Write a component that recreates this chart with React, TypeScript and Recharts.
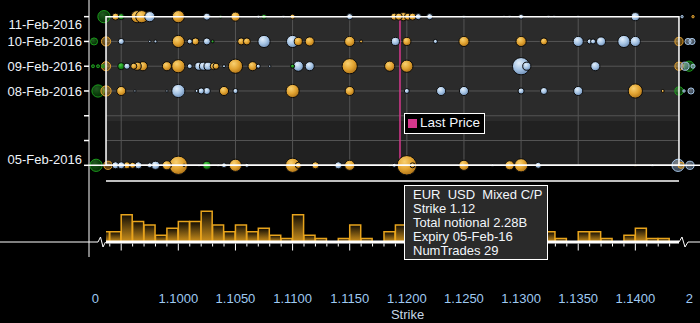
import React from "react";
import {
  ScatterChart,
  Scatter,
  BarChart,
  Bar,
  XAxis,
  YAxis,
  ZAxis,
  Cell,
  Label,
  ReferenceArea,
  ReferenceLine,
} from "recharts";

// [strike, expiry day (Feb 2016), notional in millions]
type Trade = [number, number, number];
// [axis position inside the broken-axis tail, expiry day, notional, colour key]
type TailTrade = [number, number, number, string];

const goldTrades: Trade[] = [
  [1.0945, 11, 300], [1.0964, 11, 900], [1.0968, 11, 900], [1.1, 11, 900], [1.105, 11, 500],
  [1.11, 11, 150], [1.1189, 11, 300], [1.1193, 11, 300], [1.1197, 11, 400], [1.1201, 11, 300],
  [1.1205, 11, 300],
  [1.1, 10, 900], [1.1015, 10, 300], [1.1055, 10, 300], [1.106, 10, 300], [1.1105, 10, 400],
  [1.1115, 10, 500], [1.115, 10, 625], [1.116, 10, 55], [1.12, 10, 400], [1.125, 10, 625],
  [1.13, 10, 625], [1.132, 10, 300],
  [1.0961, 9, 225], [1.0964, 9, 400], [1.0969, 9, 500], [1.099, 9, 500], [1.1, 9, 1050],
  [1.1031, 9, 300], [1.1033, 9, 225], [1.105, 9, 1225], [1.1065, 9, 500], [1.115, 9, 1400],
  [1.1185, 9, 625], [1.12, 9, 900],
  [1.095, 8, 500], [1.104, 8, 500], [1.11, 8, 1050], [1.115, 8, 500], [1.14, 8, 1225], [1.1424, 8, 55],
  [1.0955, 5, 300], [1.096, 5, 225], [1.099, 5, 500], [1.1, 5, 2025], [1.105, 5, 900],
  [1.11, 5, 1225], [1.1105, 5, 225], [1.112, 5, 300], [1.115, 5, 625], [1.12, 5, 2280],
  [1.1205, 5, 150], [1.125, 5, 625], [1.129, 5, 500], [1.13, 5, 1050], [1.14, 5, 35],
];

const blueTrades: Trade[] = [
  [1.0975, 11, 625], [1.1025, 11, 300], [1.107, 11, 55], [1.1092, 11, 35], [1.115, 11, 225],
  [1.121, 11, 225], [1.122, 11, 225], [1.125, 11, 55], [1.1285, 11, 35], [1.129, 11, 35],
  [1.13, 11, 150], [1.1324, 11, 35], [1.1329, 11, 35], [1.135, 11, 35], [1.14, 11, 400],
  [1.095, 10, 225], [1.0975, 10, 35], [1.098, 10, 55], [1.101, 10, 150], [1.1025, 10, 300],
  [1.1075, 10, 900], [1.11, 10, 900], [1.119, 10, 400], [1.1225, 10, 100], [1.135, 10, 625],
  [1.136, 10, 150], [1.1363, 10, 150], [1.137, 10, 500], [1.139, 10, 900], [1.14, 10, 625],
  [1.0955, 9, 225], [1.101, 9, 150], [1.1018, 9, 400], [1.1022, 9, 400], [1.1026, 9, 400],
  [1.104, 9, 55], [1.107, 9, 100], [1.108, 9, 35], [1.1105, 9, 625], [1.1115, 9, 500],
  [1.13, 9, 1800], [1.1305, 9, 400], [1.1365, 9, 500],
  [1.0962, 8, 35], [1.099, 8, 35], [1.1, 8, 1050], [1.1016, 8, 55], [1.102, 8, 225],
  [1.1025, 8, 300], [1.105, 8, 150], [1.12, 8, 150], [1.123, 8, 500], [1.125, 8, 500],
  [1.13, 8, 225], [1.132, 8, 300], [1.135, 8, 500],
  [1.0945, 5, 300], [1.095, 5, 300], [1.0965, 5, 300], [1.0975, 5, 150], [1.098, 5, 400],
  [1.1005, 5, 35], [1.1018, 5, 35], [1.1035, 5, 35], [1.104, 5, 150], [1.106, 5, 100],
  [1.114, 5, 300], [1.1189, 5, 100], [1.1275, 5, 35], [1.1315, 5, 225], [1.1415, 5, 35],
];

const greenTrades: Trade[] = [
  [1.095, 11, 225], [1.1037, 11, 55], [1.1075, 11, 150], [1.103, 10, 55],
  [1.095, 9, 300], [1.11, 9, 100], [1.1025, 5, 400], [1.1185, 5, 35],
];

// trades far from spot, drawn in the "0" and "2" stubs of the broken axis
const lowTailTrades: TailTrade[] = [
  [1.09349, 11, 900, "green"],
  [1.09262, 10, 300, "green"], [1.09367, 10, 500, "gold"],
  [1.09253, 9, 55, "green"], [1.09297, 9, 55, "green"], [1.0934, 9, 55, "green"], [1.09367, 9, 500, "gold"],
  [1.09297, 8, 900, "green"], [1.09367, 8, 625, "gold"],
  [1.0928, 5, 900, "green"], [1.09384, 5, 400, "gold"],
];
const highTailTrades: TailTrade[] = [
  [1.14409, 11, 35, "blue"], [1.14505, 11, 35, "gold"],
  [1.14382, 10, 400, "gold"], [1.14461, 10, 225, "blue"], [1.14496, 10, 225, "blue"],
  [1.14382, 9, 400, "gold"], [1.14435, 9, 400, "blue"], [1.1447, 9, 625, "green"], [1.14505, 9, 100, "blue"],
  [1.14382, 8, 400, "green"], [1.14426, 8, 35, "blue"], [1.14487, 8, 225, "blue"],
  [1.14374, 5, 900, "blue"], [1.144, 5, 225, "gold"], [1.14478, 5, 400, "blue"],
];

const expiryTicks = [5, 6, 7, 8, 9, 10, 11];
const expiryLabels: Record<number, string> = {
  5: "05-Feb-2016",
  8: "08-Feb-2016",
  9: "09-Feb-2016",
  10: "10-Feb-2016",
  11: "11-Feb-2016",
};
const strikeTicks = [1.1, 1.105, 1.11, 1.115, 1.12, 1.125, 1.13, 1.135, 1.14];

// trade count per 0.001 strike bucket, first bucket centred on 1.0935
const histCounts = [
  3, 3, 8, 6, 5, 2, 4, 6, 6, 9,
  5, 3, 5, 3, 4, 2, 1, 8, 2, 1,
  0, 1, 5, 1, 0, 3, 5, 9, 4, 3,
  5, 2, 6, 3, 2, 1, 4, 5, 3, 3,
  1, 0, 3, 3, 1, 0, 2, 4, 1, 1,
  0,
];

const LAST_PRICE = 1.1194;
const highlight = { pair: "EUR  USD", kind: "Mixed C/P", strike: 1.12, notional: 2280, expiry: "05-Feb-16", numTrades: 29 };

// axis geometry
const X_DOMAIN: [number, number] = [1.09218, 1.14566];
const FRAME_LO = 1.09367;
const FRAME_HI = 1.14382;
const LOW_TAIL_TICK = 1.09274;
const HIGH_TAIL_TICK = 1.14473;
const DAY_DOMAIN: [number, number] = [1.298, 11.673];
const BAND_SPLIT = 6.79;

const FONT = "'Liberation Sans', Arial, sans-serif";
const GRAD: Record<string, string> = { gold: "url(#bGold)", blue: "url(#bBlue)", green: "url(#bGreen)" };
const SOLID: Record<string, string> = { gold: "#e0a030", blue: "#a8c6e6", green: "#1c9a1c" };

const toPoints = (rows: Trade[], colour: string) =>
  rows.map(([strike, day, notional]) => ({ strike, day, notional, colour }));

const mainPoints = [
  ...toPoints(goldTrades, "gold"),
  ...toPoints(blueTrades, "blue"),
  ...toPoints(greenTrades, "green"),
].sort((a, b) => b.notional - a.notional);

const tailPoints = [...lowTailTrades, ...highTailTrades]
  .map(([strike, day, notional, colour]) => ({ strike, day, notional, colour }))
  .sort((a, b) => b.notional - a.notional);

const histData = histCounts.map((count, i) => ({ bin: (10935 + 10 * i) / 10000, count }));
const binEdges = histCounts.slice(1).map((_, i) => (1094 + i) / 1000);

const strikeLabel = (v: number) => {
  if (v === LOW_TAIL_TICK) return "0";
  if (v === HIGH_TAIL_TICK) return "2";
  return v.toFixed(4);
};

function ExpiryTick({ x, y, payload }: any) {
  const label = expiryLabels[payload.value];
  if (!label) return null;
  // edge labels are nudged inwards
  const shift = payload.value === 11 ? 8 : payload.value === 5 ? -6 : 0;
  return (
    <text x={x} y={y + shift} dy="0.35em" textAnchor="end" fill="#eef3fa" fontSize={13} fontFamily={FONT}>
      {label}
    </text>
  );
}

function StrikeTick({ x, y, payload }: any) {
  return (
    <text x={x} y={y + 41} dy="0.35em" textAnchor="middle" fill="#9fcaf2" fontSize={13} fontFamily={FONT}>
      {strikeLabel(payload.value)}
    </text>
  );
}

function BinTick({ x, y, payload }: any) {
  const v = payload.value * 200;
  const major = Math.abs(v - Math.round(v)) < 1e-6;
  return <line x1={x} x2={x} y1={y + 1.5} y2={y + (major ? 8.5 : 4.5)} stroke="#fff" strokeWidth={1} />;
}

export default function App() {
  const gridStrikes = [1.095, ...strikeTicks];
  const gridDays = [6, 7, 8, 9, 10];

  return (
    <div style={{ position: "fixed", left: 0, top: 0, width: 700, height: 323, background: "#000", overflow: "hidden", fontFamily: FONT }}>
      <svg width={0} height={0} style={{ position: "absolute" }}>
        <defs>
          <radialGradient id="bGold" cx="38%" cy="32%" r="70%">
            <stop offset="0%" stopColor="#f8d070" />
            <stop offset="55%" stopColor="#e2a432" />
            <stop offset="100%" stopColor="#b07418" />
          </radialGradient>
          <radialGradient id="bBlue" cx="38%" cy="32%" r="70%">
            <stop offset="0%" stopColor="#e2eefa" />
            <stop offset="55%" stopColor="#a6c4e4" />
            <stop offset="100%" stopColor="#7090b8" />
          </radialGradient>
          <radialGradient id="bGreen" cx="38%" cy="32%" r="70%">
            <stop offset="0%" stopColor="#4cc84c" />
            <stop offset="55%" stopColor="#1c961c" />
            <stop offset="100%" stopColor="#0c5c0c" />
          </radialGradient>
          <linearGradient id="histFill" x1="0" y1="0" x2="0" y2="1">
            <stop offset="0%" stopColor="#100c04" />
            <stop offset="100%" stopColor="#d0921c" />
          </linearGradient>
        </defs>
      </svg>

      <div style={{ position: "absolute", left: 0, top: 0 }}>
        <ScatterChart width={700} height={323} margin={{ top: 0, right: 0, bottom: 0, left: 0 }}>
          <XAxis
            type="number"
            dataKey="strike"
            domain={X_DOMAIN}
            allowDataOverflow
            ticks={[LOW_TAIL_TICK, ...strikeTicks, HIGH_TAIL_TICK]}
            interval={0}
            height={66}
            axisLine={false}
            tickLine={false}
            tickSize={0}
            tickMargin={0}
            tick={<StrikeTick />}
          >
            <Label value="Strike" position="insideBottom" offset={4} dx={13} fill="#c6d6e6" fontSize={13} fontFamily={FONT} />
          </XAxis>
          <YAxis
            type="number"
            dataKey="day"
            domain={DAY_DOMAIN}
            allowDataOverflow
            ticks={expiryTicks}
            interval={0}
            width={89}
            axisLine={{ stroke: "#fff", strokeWidth: 1 }}
            tickLine={{ stroke: "#fff", strokeWidth: 1.5 }}
            tickSize={5}
            tickMargin={2}
            tick={<ExpiryTick />}
          />
          <ZAxis type="number" dataKey="notional" domain={[0, 2500]} range={[0, (2500 * Math.PI) / 24]} />

          <ReferenceArea x1={FRAME_LO} x2={FRAME_HI} y1={BAND_SPLIT} y2={11} fill="#2b2b2b" fillOpacity={1} stroke="none" zIndex={-300} />
          <ReferenceArea x1={FRAME_LO} x2={FRAME_HI} y1={5} y2={BAND_SPLIT} fill="#212121" fillOpacity={1} stroke="none" zIndex={-300} />
          {gridStrikes.map((s) => (
            <ReferenceLine key={`gx${s}`} segment={[{ x: s, y: 5 }, { x: s, y: 11 }]} stroke="#555" strokeWidth={1} zIndex={-200} />
          ))}
          {gridDays.map((d) => (
            <ReferenceLine key={`gy${d}`} segment={[{ x: FRAME_LO, y: d }, { x: FRAME_HI, y: d }]} stroke="#555" strokeWidth={1} zIndex={-200} />
          ))}
          <ReferenceLine segment={[{ x: LAST_PRICE, y: 5 }, { x: LAST_PRICE, y: 11 }]} stroke="#d6378d" strokeWidth={1.5} zIndex={-100} />

          <Scatter data={tailPoints} isAnimationActive={false}>
            {tailPoints.map((p, i) => (
              <Cell key={`t${i}`} fill={GRAD[p.colour]} fillOpacity={0.45} stroke={SOLID[p.colour]} strokeWidth={1} />
            ))}
          </Scatter>
          <Scatter data={mainPoints} isAnimationActive={false}>
            {mainPoints.map((p, i) => (
              <Cell key={`m${i}`} fill={GRAD[p.colour]} stroke="#0c0c0c" strokeWidth={1} />
            ))}
          </Scatter>

          <ReferenceArea x1={FRAME_LO} x2={FRAME_HI} y1={5} y2={11} fill="none" fillOpacity={0} stroke="#fff" strokeWidth={1.5} zIndex={700} />
          <ReferenceLine y={5} stroke="#fff" strokeWidth={1.5} zIndex={700} />
        </ScatterChart>
      </div>

      <div style={{ position: "absolute", left: 106, top: 200 }}>
        <BarChart width={573} height={54} data={histData} margin={{ top: 0, right: 0, bottom: 0, left: 0 }} barCategoryGap={0} barGap={0}>
          <XAxis
            type="number"
            dataKey="bin"
            domain={[FRAME_LO, FRAME_HI]}
            allowDataOverflow
            ticks={binEdges}
            interval={0}
            height={12}
            axisLine={{ stroke: "#fff", strokeWidth: 3 }}
            tickLine={false}
            tickSize={0}
            tickMargin={0}
            tick={<BinTick />}
          />
          <YAxis hide type="number" domain={[0, 12.28]} allowDataOverflow />
          <Bar dataKey="count" fill="url(#histFill)" stroke="#e8a41c" strokeWidth={1.5} isAnimationActive={false} />
        </BarChart>
      </div>

      <svg width={700} height={323} style={{ position: "absolute", left: 0, top: 0, pointerEvents: "none" }}>
        <line x1={106} x2={679} y1={181} y2={181} stroke="#fff" strokeWidth={1.5} />
        <polyline points="0,242 98,242 100.5,237 103,247 105.5,242" fill="none" stroke="#fff" strokeWidth={1} />
        <polyline points="679,242 682,237 685,247 688,242 700,242" fill="none" stroke="#fff" strokeWidth={1} />
      </svg>

      <div
        style={{
          position: "absolute", left: 404, top: 113, width: 81, height: 21, boxSizing: "border-box",
          border: "1.5px solid #fff", background: "#000", color: "#f2f6fb", fontSize: 13.5, lineHeight: "18px",
        }}
      >
        <span style={{ position: "absolute", left: 3, top: 5, width: 9, height: 9, background: "#d6378d" }} />
        <span style={{ position: "absolute", left: 15, top: 0 }}>Last Price</span>
      </div>

      <div
        style={{
          position: "absolute", left: 404, top: 185, width: 144, height: 75, boxSizing: "border-box",
          border: "1px solid #fff", background: "#2a2a2a", color: "#f2f6fb", fontSize: 13, lineHeight: "14px",
          padding: "2px 0 0 8px", whiteSpace: "pre",
        }}
      >
        <div>{`${highlight.pair}  ${highlight.kind}`}</div>
        <div>{`Strike ${highlight.strike}`}</div>
        <div>{`Total notional ${(highlight.notional / 1000).toFixed(2)}B`}</div>
        <div>{`Expiry ${highlight.expiry}`}</div>
        <div>{`NumTrades ${highlight.numTrades}`}</div>
      </div>
    </div>
  );
}
